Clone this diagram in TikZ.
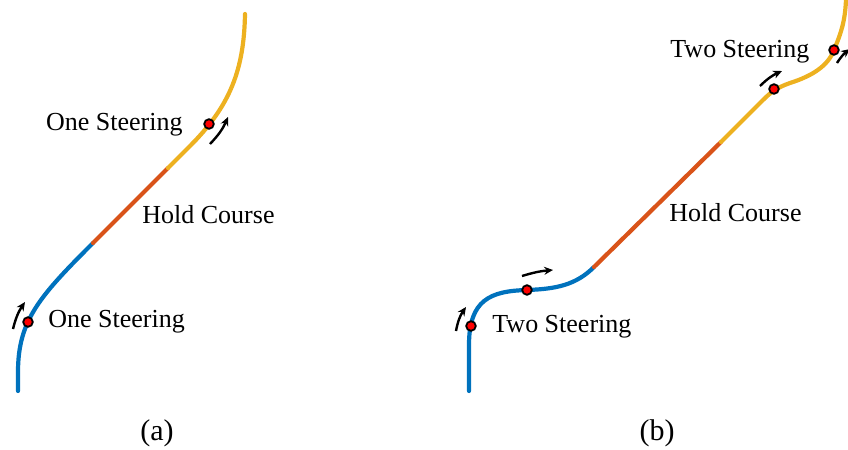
\documentclass[tikz,border=0pt]{standalone}
\usepackage{fontspec}
\setmainfont{Liberation Serif}
\usepackage{xcolor}
\usetikzlibrary{arrows.meta, calc}
\definecolor{pathblue}{RGB}{0,114,189}
\definecolor{pathred}{RGB}{217,83,25}
\definecolor{pathyellow}{RGB}{237,177,32}
\tikzset{
  seg/.style={line width=2.1pt, line cap=round},
  turnpt/.style={circle, draw=black, fill=red, line width=0.9pt, inner sep=0pt, minimum size=4.8pt},
  steer/.style={-{Stealth[length=4.4pt,width=4pt]}, line width=1.2pt},
  lbl/.style={font=\fontsize{13}{15}\selectfont, inner sep=0pt},
  subcap/.style={font=\fontsize{15}{17}\selectfont, inner sep=0pt}
}

\begin{document}
\begin{tikzpicture}[x=0.5pt,y=-0.5pt]
    \useasboundingbox (0,0) rectangle (848,450);
    % (a) one steering each end
    \draw[seg,pathblue] (18,391) -- (18,372) .. controls (18,320) and (40,296) .. (93,243);
    \draw[seg,pathred] (93,243) -- (168,168);
    \draw[seg,pathyellow] (168,168) -- (190,146) .. controls (230,106) and (244,70) .. (245,14);
    \node[turnpt] (a1) at (28,322) {};
    \node[turnpt] (a2) at (209,124) {};
    \coordinate (a1s) at (13,329);
    \coordinate (a1e) at (25,302);
    \coordinate (a2s) at (210,144);
    \coordinate (a2e) at (228,117);
    \draw[steer] (a1s) to[bend left=10] (a1e);
    \draw[steer] (a2s) to[bend right=10] (a2e);
    % labels (a)
    \node[lbl, anchor=east] (ta2) at (183,125) {One Steering};
    \node[lbl, anchor=west] (ta1) at (48,322) {One Steering};
    \node[lbl, anchor=west] (ha) at (142,215) {Hold Course};
    \node[subcap] (capa) at (157,433) {(a)};
    % (b) two steering each end
    \draw[seg,pathblue] (469,391) -- (469,345) .. controls (469,300) and (490,291) .. (527,290)
        .. controls (556,289) and (576,285) .. (594,267);
    \draw[seg,pathred] (594,267) -- (721,142);
    \draw[seg,pathyellow] (721,142) -- (762,101) .. controls (771,92) and (776,88) .. (790,83)
        .. controls (812,76) and (828,66) .. (834,50) .. controls (841,33) and (845,22) .. (846,0);
    \node[turnpt] (b1) at (471,326) {};
    \node[turnpt] (b2) at (527,290) {};
    \node[turnpt] (b3) at (774,89) {};
    \node[turnpt] (b4) at (834,50) {};
    \coordinate (b1s) at (456,331);
    \coordinate (b1e) at (466,307);
    \coordinate (b2s) at (522,276);
    \coordinate (b2e) at (553,270);
    \coordinate (b3s) at (760,86);
    \coordinate (b3e) at (782,71);
    \coordinate (b4s) at (837,63);
    \coordinate (b4e) at (850,49);
    \draw[steer] (b1s) to[bend left=12] (b1e);
    \draw[steer] (b2s) to[bend left=6] (b2e);
    \draw[steer] (b3s) to[bend left=10] (b3e);
    \draw[steer] (b4s) to[bend left=10] (b4e);
    % labels (b)
    \node[lbl, anchor=west] (tb1) at (492,327) {Two Steering};
    \node[lbl, anchor=west] (tb3) at (670,52) {Two Steering};
    \node[lbl, anchor=west] (hb) at (669,213) {Hold Course};
    \node[subcap] (capb) at (657,433) {(b)};
\end{tikzpicture}
\end{document}
